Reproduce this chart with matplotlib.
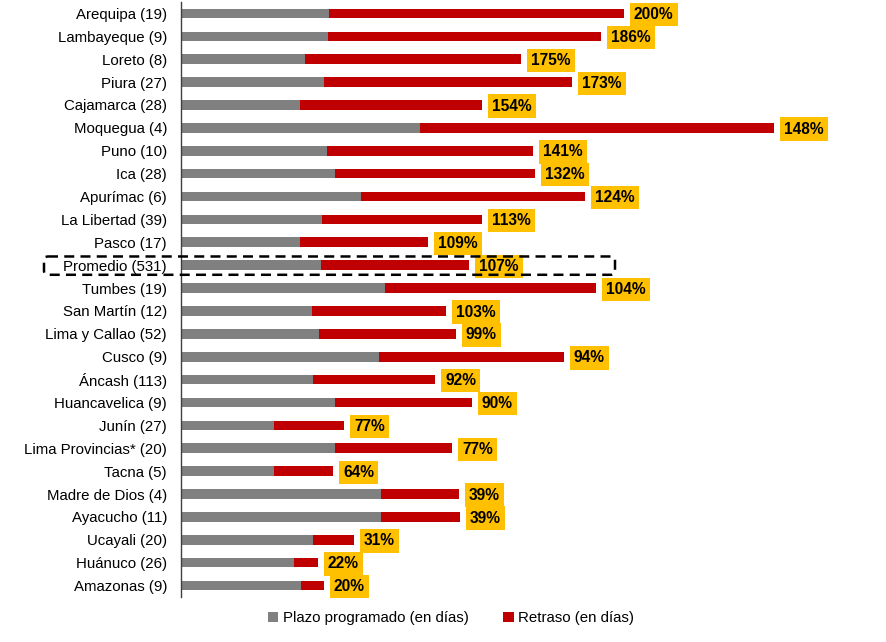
import matplotlib
matplotlib.use("Agg")
import matplotlib.pyplot as plt
from matplotlib.patches import FancyBboxPatch, Patch

plt.rcParams['font.family'] = ['Liberation Sans', 'DejaVu Sans']

regions = ["Arequipa (19)", "Lambayeque (9)", "Loreto (8)", "Piura (27)", "Cajamarca (28)",
           "Moquegua (4)", "Puno (10)", "Ica (28)", "Apurímac (6)", "La Libertad (39)",
           "Pasco (17)", "Promedio (531)", "Tumbes (19)", "San Martín (12)", "Lima y Callao (52)",
           "Cusco (9)", "Áncash (113)", "Huancavelica (9)", "Junín (27)", "Lima Provincias* (20)",
           "Tacna (5)", "Madre de Dios (4)", "Ayacucho (11)", "Ucayali (20)", "Huánuco (26)",
           "Amazonas (9)"]
plazo = [148, 147, 124, 143, 119, 239, 146, 154, 180, 141, 119, 140, 204, 131, 138,
         198, 132, 154, 93, 154, 93, 200, 200, 132, 113, 120]
retraso = [295, 273, 216, 248, 182, 354, 206, 200, 224, 160, 128, 148, 211, 134, 137,
           185, 122, 137, 70, 117, 59, 78, 79, 41, 24, 23]
pct_labels = ["200%", "186%", "175%", "173%", "154%", "148%", "141%", "132%", "124%", "113%",
              "109%", "107%", "104%", "103%", "99%", "94%", "92%", "90%", "77%", "77%",
              "64%", "39%", "39%", "31%", "22%", "20%"]

W, H = 886, 642
fig = plt.figure(figsize=(W / 100, H / 100), dpi=100)
ax_left, ax_right = 181, 880
ax_top, ax_bottom = 2, 597
ax = fig.add_axes([ax_left / W, 1 - ax_bottom / H, (ax_right - ax_left) / W, (ax_bottom - ax_top) / H])

y = list(range(len(regions)))
gray = "#808080"
red = "#C00000"
ax.barh(y, plazo, height=0.42, color=gray)
ax.barh(y, retraso, left=plazo, height=0.42, color=red)

for i in y:
    end = plazo[i] + retraso[i]
    ax.text(end + 10, i + 0.05, pct_labels[i], ha="left", va="center", fontsize=11.2, fontweight="bold",
            color="black",
            bbox=dict(boxstyle="square,pad=0.27", facecolor="#FFC000", edgecolor="none"))

ax.set_xlim(0, ax_right - ax_left)
ax.set_ylim(len(regions) - 0.5, -0.5)
ax.set_yticks(y)
ax.set_yticklabels(regions, fontsize=10.8)
ax.tick_params(axis="y", length=0, pad=10)
ax.set_xticks([])
for s in ["top", "right", "bottom"]:
    ax.spines[s].set_visible(False)
ax.spines["left"].set_color("#404040")
ax.spines["left"].set_linewidth(1)

# dashed box around Promedio
idx = regions.index("Promedio (531)")
box = FancyBboxPatch((44 - ax_left, idx - 0.38), 615 - 44, 0.8,
                     boxstyle="round,pad=0,rounding_size=4",
                     mutation_aspect=1 / 22.9,
                     fill=False, edgecolor="black", linestyle=(0, (4, 2.5)), linewidth=1.8,
                     clip_on=False, transform=ax.transData, zorder=5)
ax.add_patch(box)

handles = [Patch(facecolor=gray, label="Plazo programado (en días)"),
           Patch(facecolor=red, label="Retraso (en días)")]
fig.legend(handles=handles, loc="center", bbox_to_anchor=(451 / W, 1 - 618 / H), ncol=2,
           frameon=False, fontsize=10.8, handlelength=0.7, handleheight=0.7,
           handletextpad=0.3, columnspacing=2.3)

fig.savefig("out.png", dpi=100)
